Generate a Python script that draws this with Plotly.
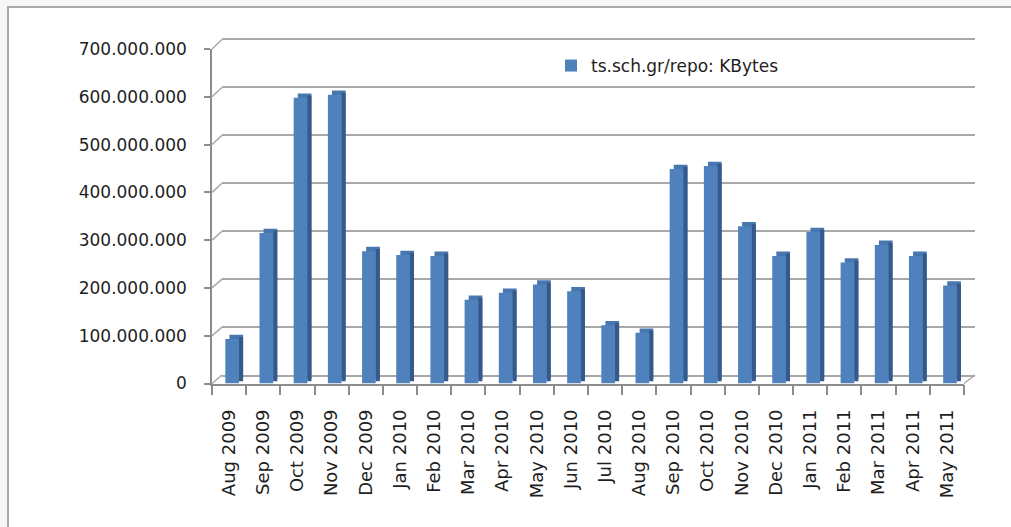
import plotly.graph_objects as go

# ---- data ----
months = ["Aug 2009", "Sep 2009", "Oct 2009", "Nov 2009", "Dec 2009", "Jan 2010",
          "Feb 2010", "Mar 2010", "Apr 2010", "May 2010", "Jun 2010", "Jul 2010",
          "Aug 2010", "Sep 2010", "Oct 2010", "Nov 2010", "Dec 2010", "Jan 2011",
          "Feb 2011", "Mar 2011", "Apr 2011", "May 2011"]
kbytes = [93e6, 315e6, 598e6, 604e6, 277e6, 269e6,
          267e6, 175e6, 190e6, 207e6, 193e6, 122e6,
          106e6, 449e6, 455e6, 329e6, 267e6, 317e6,
          253e6, 290e6, 267e6, 205e6]
series_name = "ts.sch.gr/repo: KBytes"
y_max = 700e6
y_step = 100e6

# ---- geometry helpers (pixels -> paper fractions) ----
W, H = 1011, 527
def fx(px):
    return px / W
def fy(py):
    return 1 - py / H

# front (bars) plane
FX0, FX1 = 212, 964
FY0, FY1 = 383.5, 49
# back wall plane
BX0, BX1 = 222, 975
BY0, BY1 = 375, 39.5

GRID = "#a8a8a8"
AXC = "#8c8c8c"
TXT = "#1e1e1e"
FONT = "DejaVu Sans"

depth = 9e6        # visual depth of the 3D columns in value units
front_w = 0.40
front_off = -0.11
side_w = 0.12

fig = go.Figure()

# dummy trace for the back-wall subplot
fig.add_trace(go.Scatter(x=[], y=[], xaxis="x", yaxis="y", showlegend=False, hoverinfo="skip"))

# top face (shifted back copy)
fig.add_trace(go.Bar(x=months, y=kbytes, base=depth, width=front_w, offset=front_off + side_w,
                     marker=dict(color="#4876ae", line=dict(width=0)),
                     xaxis="x2", yaxis="y2", showlegend=False, hoverinfo="skip"))
# side face
fig.add_trace(go.Bar(x=months, y=kbytes, base=depth / 2, width=side_w, offset=front_off + front_w,
                     marker=dict(color="#34598a", line=dict(width=0)),
                     xaxis="x2", yaxis="y2", showlegend=False, hoverinfo="skip"))
# front face
fig.add_trace(go.Bar(x=months, y=kbytes, width=front_w, offset=front_off, name=series_name,
                     marker=dict(color="#4f81bd", line=dict(width=0)),
                     xaxis="x2", yaxis="y2", showlegend=True))

shapes = []
# outer frame
shapes.append(dict(type="rect", xref="paper", yref="paper",
                   x0=fx(8), x1=fx(1030), y0=fy(545), y1=fy(7),
                   line=dict(color="#a8a8a8", width=2), fillcolor="white", layer="below"))
# connectors from front axis ticks to back wall gridlines
n_ticks = int(round(y_max / y_step))
for i in range(n_ticks + 1):
    v = i * y_step
    yf = FY0 + (FY1 - FY0) * v / y_max
    yb = BY0 + (BY1 - BY0) * v / y_max
    shapes.append(dict(type="line", xref="paper", yref="paper",
                       x0=fx(FX0), y0=fy(yf), x1=fx(BX0), y1=fy(yb),
                       line=dict(color=GRID, width=1.5)))
# right floor edge
shapes.append(dict(type="line", xref="paper", yref="paper",
                   x0=fx(BX1), y0=fy(BY0), x1=fx(FX1), y1=fy(FY0),
                   line=dict(color=GRID, width=1.5)))

fig.update_layout(
    width=W, height=H,
    margin=dict(l=0, r=0, t=0, b=0, pad=0, autoexpand=False),
    paper_bgcolor="#f6f6f6",
    plot_bgcolor="rgba(0,0,0,0)",
    separators=",.",
    barmode="overlay",
    shapes=shapes,
    showlegend=True,
    legend=dict(x=fx(551), y=fy(66), xanchor="left", yanchor="middle",
                bgcolor="rgba(0,0,0,0)", font=dict(family=FONT, size=17, color=TXT)),
    xaxis=dict(domain=[fx(BX0), fx(BX1)], range=[0, 1], anchor="y", automargin=False,
               showticklabels=False, ticks="", showgrid=False, zeroline=False,
               showline=True, mirror=True, linecolor=GRID, linewidth=2, fixedrange=True),
    yaxis=dict(domain=[fy(BY0), fy(BY1)], range=[0, y_max], anchor="x", dtick=y_step,
               automargin=False,
               showticklabels=False, ticks="", showgrid=True, gridcolor=GRID, gridwidth=2,
               zeroline=False, showline=False, fixedrange=True),
    xaxis2=dict(domain=[fx(FX0), fx(FX1)], anchor="y2", type="category", automargin=False,
                range=[-0.5, len(months) - 0.5], tickson="boundaries",
                ticks="outside", ticklen=10, tickcolor=AXC, tickwidth=1.5,
                showline=True, linecolor=AXC, linewidth=1.5, showgrid=False, zeroline=False,
                tickangle=-90, ticklabelstandoff=17,
                tickfont=dict(family=FONT, size=18, color=TXT)),
    yaxis2=dict(domain=[fy(FY0), fy(FY1)], anchor="x2", range=[0, y_max], dtick=y_step,
                automargin=False,
                tickformat=",d", showgrid=False, zeroline=False,
                showline=True, linecolor=AXC, linewidth=1.5,
                ticks="outside", ticklen=6, tickcolor=AXC, tickwidth=1.5,
                ticklabelstandoff=14,
                tickfont=dict(family=FONT, size=17, color=TXT)),
)

post = (
    "document.documentElement.style.margin='0';"
    "document.documentElement.style.overflow='hidden';"
    "document.body.style.margin='0';"
    "document.body.style.overflow='hidden';"
    "var gd=document.getElementById('{plot_id}');"
    "gd.style.position='fixed';gd.style.left='0px';gd.style.top='0px';"
)
fig.write_html("out.html", config={"displayModeBar": False}, post_script=post)
